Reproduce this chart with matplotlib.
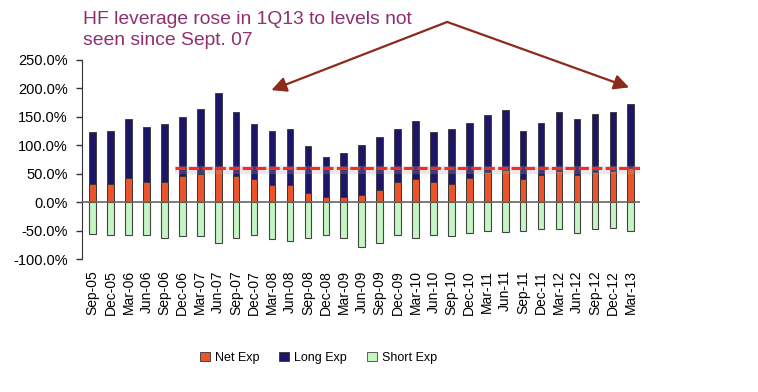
import matplotlib.pyplot as plt
import matplotlib.patches as mpatches
import numpy as np

plt.rcParams['font.family'] = ['Liberation Sans', 'DejaVu Sans']

# Quarterly hedge fund exposure, % of capital
quarters = ['Sep-05', 'Dec-05', 'Mar-06', 'Jun-06', 'Sep-06', 'Dec-06', 'Mar-07',
            'Jun-07', 'Sep-07', 'Dec-07', 'Mar-08', 'Jun-08', 'Sep-08', 'Dec-08',
            'Mar-09', 'Jun-09', 'Sep-09', 'Dec-09', 'Mar-10', 'Jun-10', 'Sep-10',
            'Dec-10', 'Mar-11', 'Jun-11', 'Sep-11', 'Dec-11', 'Mar-12', 'Jun-12',
            'Sep-12', 'Dec-12', 'Mar-13']
long_exp = [124, 125, 147, 132, 138, 150, 163, 192, 158, 138, 125, 129, 99, 79,
            86, 101, 114, 129, 143, 124, 129, 139, 154, 162, 125, 139, 158, 147,
            155, 158, 173]
net_exp = [32, 32, 43, 35, 36, 46, 50, 58, 46, 40, 30, 30, 16, 10,
           10, 12, 21, 35, 40, 35, 32, 42, 53, 56, 40, 47, 55, 47,
           53, 55, 61]
short_exp = [-56, -58, -57, -58, -63, -60, -60, -71, -63, -57, -65, -69, -63, -57,
             -63, -79, -72, -58, -63, -57, -60, -54, -50, -52, -50, -47, -47, -54,
             -47, -45, -50]
ref_level = 61  # dashed line: current net exposure level
ref_start = 'Dec-06'

NET_COLOR = '#E9542B'
LONG_COLOR = '#1D1666'
SHORT_COLOR = '#C4F5C2'
TEXT_COLOR = '#8E2F72'
ARROW_COLOR = '#8C2A1C'

fig = plt.figure(figsize=(7.58, 3.92), dpi=100)
ax = fig.add_axes([0.108, 0.339, 0.736, 0.508])

x = np.arange(len(quarters))
w = 0.37
ax.bar(x, long_exp, width=w, color=LONG_COLOR, edgecolor='#333333', linewidth=0.6, zorder=2)
ax.bar(x, net_exp, width=w, color=NET_COLOR, edgecolor='#333333', linewidth=0.6, zorder=3)
ax.bar(x, short_exp, width=w, color=SHORT_COLOR, edgecolor='#444444', linewidth=0.8, zorder=2)

ax.axhline(0, color='#666666', linewidth=1.2, zorder=4)

# dashed reference line with soft shadow
x0 = quarters.index(ref_start) - 0.4
x1 = len(quarters) - 0.5
ax.plot([x0, x1], [ref_level - 5, ref_level - 5], color='#aaaaaa', linewidth=6,
        alpha=0.25, solid_capstyle='butt', zorder=4)
ax.plot([x0, x1], [ref_level, ref_level], color='#FF2626', linewidth=2.2,
        dashes=(3.3, 1.1), zorder=5)

ax.set_xlim(-0.6, len(quarters) - 0.5)
ax.set_ylim(-100, 250)
ax.set_yticks(np.arange(-100, 251, 50))
ax.set_yticklabels([f'{v:.1f}%' for v in np.arange(-100, 251, 50)], fontsize=10.5)
ax.set_xticks(x)
ax.set_xticklabels(quarters, rotation=90, fontsize=10)
ax.tick_params(axis='x', length=0, pad=8)
ax.tick_params(axis='y', length=4, width=1, color='#333333', pad=6)
for side in ['top', 'right', 'bottom']:
    ax.spines[side].set_visible(False)
ax.spines['left'].set_color('#333333')

# annotation text and arrows
fig.text(0.109, 0.972, 'HF leverage rose in 1Q13 to levels not\nseen since Sept. 07',
         color=TEXT_COLOR, fontsize=13.9, ha='left', va='top', linespacing=1.3)
apex = (0.59, 0.944)
for tip in [(0.358, 0.77), (0.83, 0.777)]:
    ax.annotate('', xy=tip, xytext=apex, xycoords='figure fraction',
                textcoords='figure fraction',
                arrowprops=dict(arrowstyle='-|>,head_length=0.9,head_width=0.45',
                                color=ARROW_COLOR, linewidth=1.6, shrinkA=0, shrinkB=0))

handles = [mpatches.Patch(facecolor=NET_COLOR, edgecolor='#333333', linewidth=0.6),
           mpatches.Patch(facecolor=LONG_COLOR, edgecolor='#333333', linewidth=0.6),
           mpatches.Patch(facecolor=SHORT_COLOR, edgecolor='#444444', linewidth=0.6)]
fig.legend(handles, ['Net Exp', 'Long Exp', 'Short Exp'], loc='center',
           bbox_to_anchor=(0.42, 0.087), ncol=3, frameon=False, fontsize=9,
           handlelength=0.8, handleheight=0.8, handletextpad=0.4, columnspacing=1.6)

fig.savefig('out.png', dpi=100, facecolor='white')
